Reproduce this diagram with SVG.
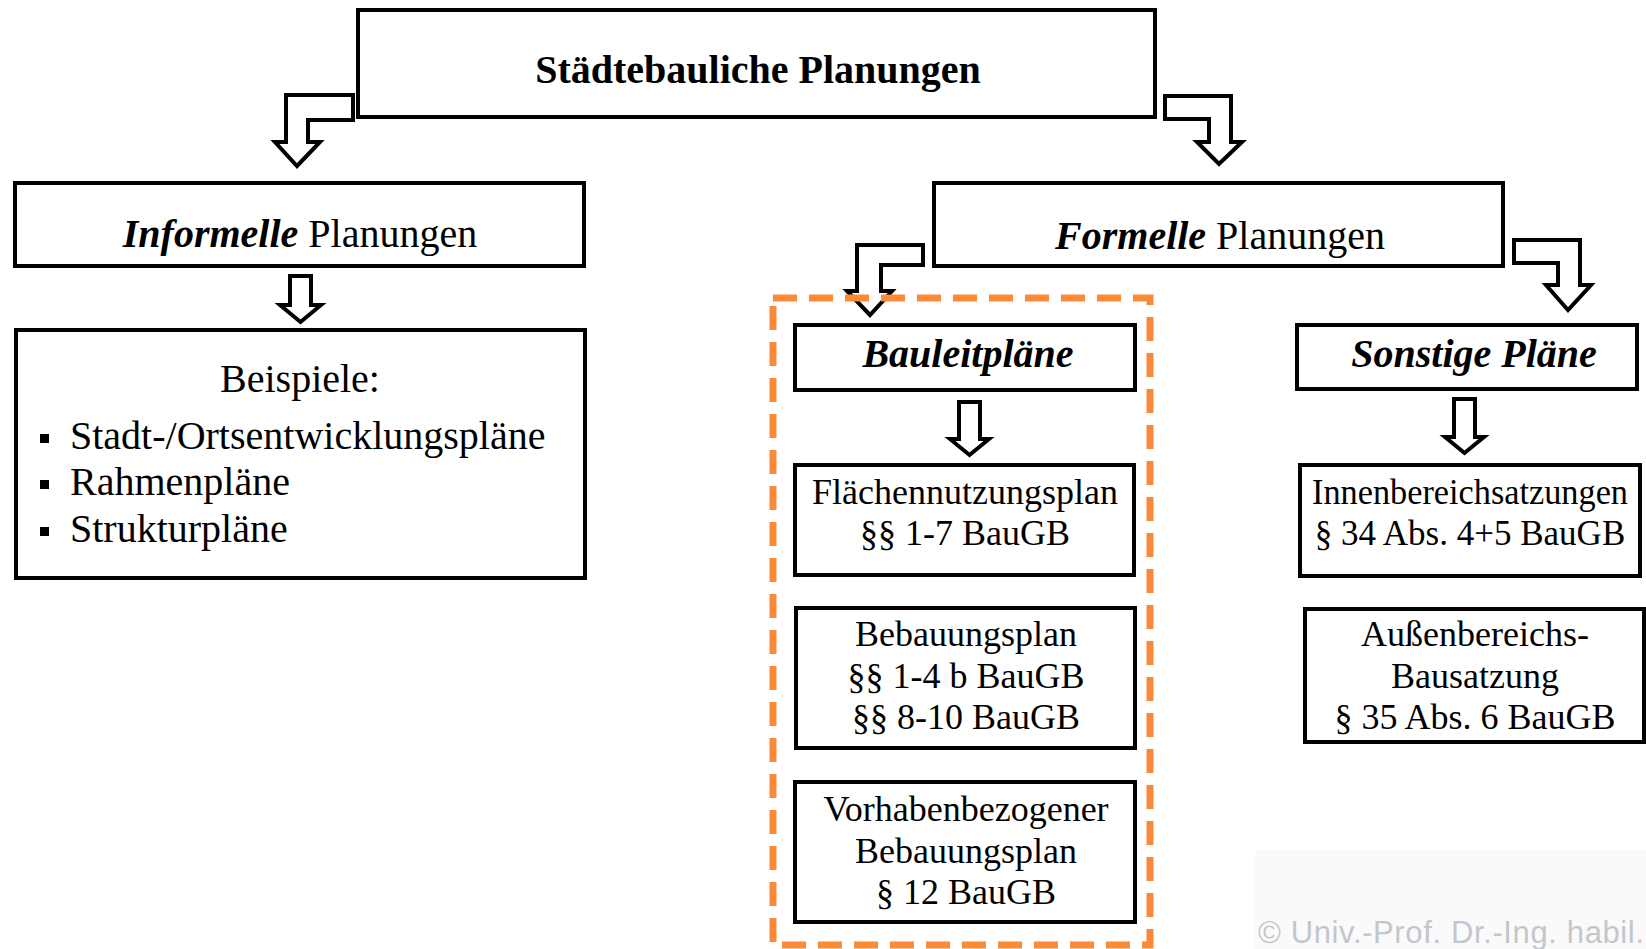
<svg xmlns="http://www.w3.org/2000/svg" width="1646" height="949" viewBox="0 0 1646 949">
<style>
.box{fill:#fff;stroke:#000;stroke-width:4}
.arr{fill:#fff;stroke:#000;stroke-width:4;stroke-linejoin:miter}
.t{font-family:"Liberation Serif","Times New Roman",serif;fill:#000;text-anchor:middle}
.tl{font-family:"Liberation Serif","Times New Roman",serif;fill:#000}
.b{font-weight:bold}
.bi{font-weight:bold;font-style:italic}
.wm{font-family:"Liberation Sans",Arial,sans-serif;fill:#c3c6cc}
</style>
<rect x="0" y="0" width="1646" height="949" fill="#fff"/>
<rect x="1255" y="850" width="391" height="99" fill="#fafafb"/>

<g id="connectors">
<path class="arr" d="M286,95 L353,95 L353,120 L308,120 L308,142 L320,142 L297,166 L275,142 L286,142 Z"/>
<path class="arr" d="M1165,96 L1231,96 L1231,142 L1242,142 L1219,164 L1197,142 L1209,142 L1209,119 L1165,119 Z"/>
<path class="arr" d="M857,245 L923,245 L923,265 L881,265 L881,291 L892,291 L870,315 L847,291 L857,291 Z"/>
<path class="arr" d="M1514,240 L1580,240 L1580,285 L1591,285 L1568,310 L1546,285 L1558,285 L1558,263 L1514,263 Z"/>
<path class="arr" d="M290,276 L311,276 L311,305 L321,305 L300.5,322 L280,305 L290,305 Z"/>
<path class="arr" d="M959,402 L980,402 L980,439 L989,439 L969.5,455 L950,439 L959,439 Z"/>
<path class="arr" d="M1454,399 L1475,399 L1475,437 L1484,437 L1464.5,453 L1445,437 L1454,437 Z"/>
</g>

<g id="bauleit-group">
<rect x="773" y="298" width="377" height="647" fill="none" stroke="#fa8a36" stroke-width="7" stroke-dasharray="24 12"/>
</g>

<g id="top">
<rect class="box" x="358" y="10" width="797" height="107"/>
<text class="t b" x="758" y="83" font-size="40">Städtebauliche Planungen</text>
</g>

<g id="informelle">
<rect class="box" x="15" y="183" width="569" height="83"/>
<text class="t" x="300" y="247" font-size="40"><tspan class="bi">Informelle</tspan> Planungen</text>
</g>

<g id="beispiele">
<rect class="box" x="16" y="330" width="569" height="248"/>
<text class="t" x="300" y="392" font-size="40">Beispiele:</text>
<rect x="40" y="434" width="9" height="9" fill="#000"/>
<rect x="40" y="480" width="9" height="9" fill="#000"/>
<rect x="40" y="527" width="9" height="9" fill="#000"/>
<text class="tl" x="70" y="449" font-size="40">Stadt-/Ortsentwicklungspläne</text>
<text class="tl" x="70" y="495" font-size="40">Rahmenpläne</text>
<text class="tl" x="70" y="542" font-size="40">Strukturpläne</text>
</g>

<g id="formelle">
<rect class="box" x="934" y="183" width="569" height="83"/>
<text class="t" x="1220" y="249" font-size="40"><tspan class="bi">Formelle</tspan> Planungen</text>
</g>

<g id="bauleitplaene">
<rect class="box" x="795" y="325" width="340" height="65"/>
<text class="t bi" x="968" y="367" font-size="40">Bauleitpläne</text>
</g>

<g id="fnp">
<rect class="box" x="795" y="465" width="339" height="110"/>
<text class="t" x="965" y="504" font-size="36">Flächennutzungsplan</text>
<text class="t" x="965" y="545" font-size="36">§§ 1-7 BauGB</text>
</g>

<g id="bplan">
<rect class="box" x="796" y="608" width="339" height="140"/>
<text class="t" x="966" y="646" font-size="36">Bebauungsplan</text>
<text class="t" x="966" y="688" font-size="36">§§ 1-4 b BauGB</text>
<text class="t" x="966" y="729" font-size="36">§§ 8-10 BauGB</text>
</g>

<g id="vbplan">
<rect class="box" x="795" y="782" width="340" height="140"/>
<text class="t" x="966" y="821" font-size="36">Vorhabenbezogener</text>
<text class="t" x="966" y="863" font-size="36">Bebauungsplan</text>
<text class="t" x="966" y="904" font-size="36">§ 12 BauGB</text>
</g>

<g id="sonstige">
<rect class="box" x="1297" y="325" width="340" height="64"/>
<text class="t bi" x="1474" y="367" font-size="40">Sonstige Pläne</text>
</g>

<g id="innen">
<rect class="box" x="1300" y="465" width="340" height="111"/>
<text class="t" x="1470" y="504" font-size="35" textLength="316" lengthAdjust="spacingAndGlyphs">Innenbereichsatzungen</text>
<text class="t" x="1470" y="545" font-size="35">§ 34 Abs. 4+5 BauGB</text>
</g>

<g id="aussen">
<rect class="box" x="1305" y="609" width="339" height="133"/>
<text class="t" x="1475" y="646" font-size="36">Außenbereichs-</text>
<text class="t" x="1475" y="688" font-size="36">Bausatzung</text>
<text class="t" x="1475" y="729" font-size="36">§ 35 Abs. 6 BauGB</text>
</g>

<text class="wm" x="1258" y="943" font-size="31" textLength="386" lengthAdjust="spacing">© Univ.-Prof. Dr.-Ing. habil.</text>
</svg>
